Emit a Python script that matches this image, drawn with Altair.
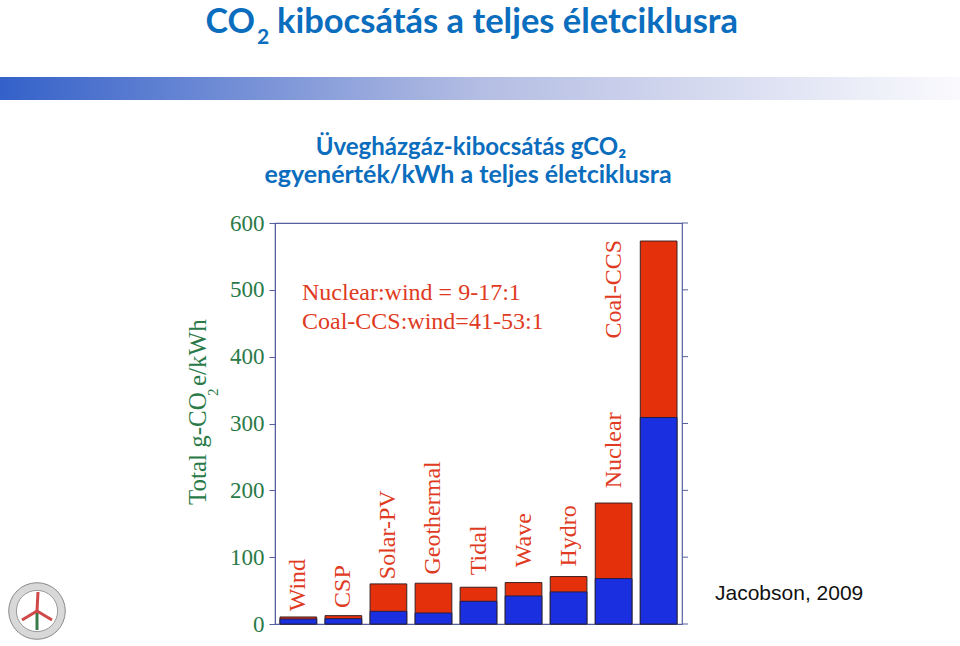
import altair as alt
import pandas as pd

# ---- data ----
categories = ["Wind", "CSP", "Solar-PV", "Geothermal", "Tidal", "Wave", "Hydro", "Nuclear", "Coal-CCS"]
lower_values = [7.5, 8, 19, 16.5, 34, 42, 48, 68, 309]        # blue part (lower estimate)
total_values = [10.5, 12.5, 60, 61, 55, 62, 71, 181, 573]     # top of red part (upper estimate)
label_texts = ["Wind", "CSP", "Solar-PV", "Geothermal", "Tidal", "Wave", "Hydro", "Nuclear", "Coal-CCS"]
label_columns = ["Wind", "CSP", "Solar-PV", "Geothermal", "Tidal", "Wave", "Hydro", "Nuclear", "Nuclear"]
label_start = [19, 24, 67, 74, 73, 85, 86, 203, 427]
tick_values = [0, 100, 200, 300, 400, 500, 600]

RED = "#e5300c"
BLUE = "#1a2fe0"
TXT_RED = "#e03a22"
GREEN = "#2a7a48"
FRAME = "#56609f"
TITLE_BLUE = "#0b6dbd"
SERIF = "Liberation Serif"
SANS_T = "Lato"

W, H = 407, 401
L, T = 275, 223

bars = pd.DataFrame({"cat": categories, "lower": lower_values, "total": total_values})
labels = pd.DataFrame({"cat": label_columns, "y": label_start, "txt": label_texts})
ticks = pd.DataFrame({"y": tick_values})
one = pd.DataFrame({"a": [0]})

xenc = alt.X("cat:N", sort=categories,
             scale=alt.Scale(paddingInner=0.185, paddingOuter=0.111), axis=None)
yaxis = alt.Axis(values=tick_values, labelFont=SERIF, labelFontSize=23, labelColor=GREEN,
                 domainColor=FRAME, tickColor=FRAME, tickSize=6, labelPadding=5,
                 grid=False, title=None)
yscale = alt.Scale(domain=[0, 600], nice=False, zero=True)


def Y(field):
    return alt.Y(field, scale=yscale, axis=yaxis)


red_bar = alt.Chart(bars).mark_bar(color=RED, stroke="#3a2020", strokeWidth=1).encode(
    x=xenc, y=Y("total:Q"))
blue_bar = alt.Chart(bars).mark_bar(color=BLUE, stroke="#20204a", strokeWidth=1).encode(
    x=xenc, y=Y("lower:Q"))

cat_labels = alt.Chart(labels).mark_text(
    angle=270, align="left", baseline="middle", font=SERIF, fontSize=24, color=TXT_RED
).encode(x=xenc, y=Y("y:Q"), text="txt:N")

right_ticks = alt.Chart(ticks).mark_rule(color=FRAME, strokeWidth=1).encode(
    y=Y("y:Q"), x=alt.value(W), x2=alt.value(W + 6))


def txt(text, x, y, **kw):
    return alt.Chart(one).mark_text(text=text, **kw).encode(x=alt.value(x - L), y=alt.value(y - T))


gradient = alt.Chart(one).mark_rect(
    color=alt.LinearGradient(
        gradient="linear", x1=0, x2=1, y1=0, y2=0,
        stops=[alt.GradientStop(offset=0, color="#3461c9"),
               alt.GradientStop(offset=0.5, color="#b4bde3"),
               alt.GradientStop(offset=1, color="#fafafd")])
).encode(x=alt.value(-L), x2=alt.value(960 - L), y=alt.value(77 - T), y2=alt.value(100 - T))

title_parts = [
    txt("CO", 255, 33, align="right", baseline="alphabetic", font=SANS_T, fontWeight="bold",
        fontSize=34, color=TITLE_BLUE),
    txt("2", 257, 44, align="left", baseline="alphabetic", font=SANS_T, fontWeight="bold",
        fontSize=21, color=TITLE_BLUE),
    txt("kibocsátás a teljes életciklusra", 277, 33, align="left", baseline="alphabetic",
        font=SANS_T, fontWeight="bold", fontSize=34.5, color=TITLE_BLUE),
    txt("Üvegházgáz-kibocsátás gCO₂", 471, 155, align="center", baseline="alphabetic",
        font=SANS_T, fontWeight="bold", fontSize=24, color=TITLE_BLUE),
    txt("egyenérték/kWh a teljes életciklusra", 468, 183, align="center", baseline="alphabetic",
        font=SANS_T, fontWeight="bold", fontSize=25, color=TITLE_BLUE),
]

ytitle = [
    txt("Total g-CO", 206, 505, angle=270, align="left", baseline="alphabetic", font=SERIF,
        fontSize=25, color=GREEN),
    txt("2", 218, 396, angle=270, align="left", baseline="alphabetic", font=SERIF,
        fontSize=15, color=GREEN),
    txt("e/kWh", 206, 386, angle=270, align="left", baseline="alphabetic", font=SERIF,
        fontSize=25, color=GREEN),
]

notes = [
    txt("Nuclear:wind = 9-17:1", 302, 300, align="left", baseline="alphabetic", font=SERIF,
        fontSize=24, color=TXT_RED),
    txt("Coal-CCS:wind=41-53:1", 302, 329, align="left", baseline="alphabetic", font=SERIF,
        fontSize=24, color=TXT_RED),
    txt("Jacobson, 2009", 715, 600, align="left", baseline="alphabetic", font="Liberation Sans",
        fontSize=21, color="#111111"),
]

# decorative logo (bottom-left)
logo = [
    alt.Chart(one).mark_point(shape="circle", filled=True, fill="#d8d8d8", stroke="#8a8a8a",
                              strokeWidth=1, size=3200, opacity=1).encode(
        x=alt.value(37 - L), y=alt.value(611 - T)),
    alt.Chart(one).mark_point(shape="circle", filled=True, fill="#ffffff", stroke="#9a9a9a",
                              strokeWidth=1, size=1700, opacity=1).encode(
        x=alt.value(37 - L), y=alt.value(611 - T)),
    alt.Chart(one).mark_rule(color="#3a7a4a", strokeWidth=3).encode(
        x=alt.value(37 - L), y=alt.value(611 - T), y2=alt.value(630 - T)),
    alt.Chart(one).mark_rule(color="#d04848", strokeWidth=3).encode(
        x=alt.value(37 - L), x2=alt.value(38 - L), y=alt.value(611 - T), y2=alt.value(592 - T)),
    alt.Chart(one).mark_rule(color="#d04848", strokeWidth=3).encode(
        x=alt.value(37 - L), x2=alt.value(22 - L), y=alt.value(611 - T), y2=alt.value(620 - T)),
    alt.Chart(one).mark_rule(color="#d04848", strokeWidth=3).encode(
        x=alt.value(37 - L), x2=alt.value(52 - L), y=alt.value(611 - T), y2=alt.value(620 - T)),
]

chart = alt.layer(
    red_bar, blue_bar, cat_labels, right_ticks, gradient, *title_parts, *ytitle, *notes, *logo
).properties(
    width=W, height=H,
    autosize="none",
    padding={"left": L, "top": T, "right": 960 - L - W, "bottom": 646 - T - H},
    background="white",
).configure_view(stroke=FRAME, strokeWidth=1.2)

chart.save("out.html", embed_options={"renderer": "svg", "actions": False})
